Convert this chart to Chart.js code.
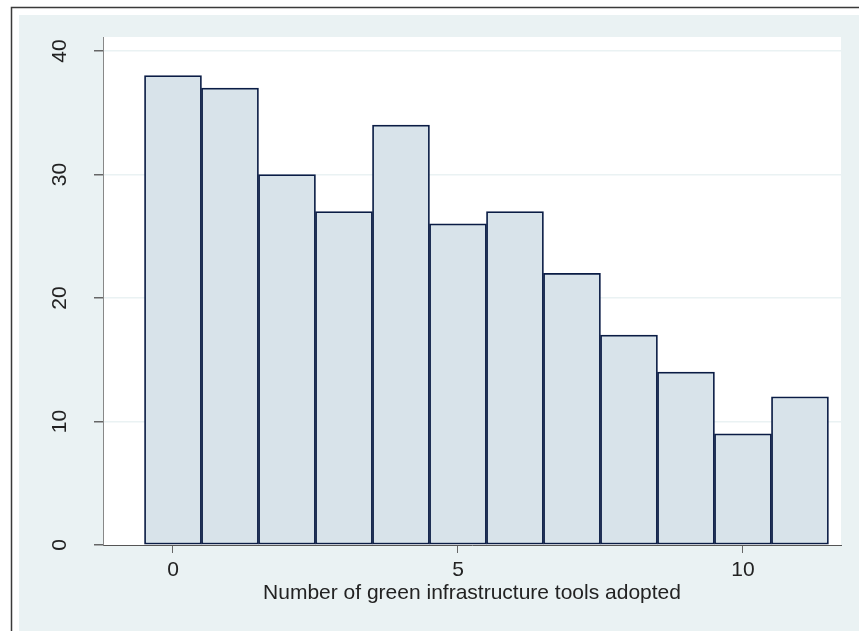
<!DOCTYPE html>
<html>
<head>
<meta charset="utf-8">
<script src="https://cdn.jsdelivr.net/npm/chart.js@4.4.1/dist/chart.umd.min.js"></script>
<style>
  html, body { margin: 0; padding: 0; background: #fff; }
  #wrap { width: 859px; height: 631px; }
</style>
</head>
<body>
<div id="wrap"><canvas id="histCanvas" width="859" height="631"></canvas></div>
<script>
// histogram: number of green infrastructure tools adopted
var toolCounts = [0, 1, 2, 3, 4, 5, 6, 7, 8, 9, 10, 11];
var frequency = [38, 37, 30, 27, 34, 26, 27, 22, 17, 14, 9, 12];
var xTickValues = [0, 5, 10];
var yTickValues = [0, 10, 20, 30, 40];
var xTitle = 'Number of green infrastructure tools adopted';

var outerBg = '#EAF2F3';
var fontFamily = '"Liberation Sans", Arial, Helvetica, sans-serif';

var points = [];
for (var i = 0; i < toolCounts.length; i++) {
	points.push({x: toolCounts[i], y: frequency[i]});
}

// stata style background and frame
var backdrop = {
	id: 'backdrop',
	beforeDraw: function(chart){
		var c = chart.ctx, a = chart.chartArea;
		c.save();
		c.fillStyle = '#fff';
		c.fillRect(0, 0, chart.width, chart.height);
		c.fillStyle = outerBg;
		c.fillRect(19, 15, chart.width - 19, chart.height - 15);
		c.fillStyle = '#fff';
		c.fillRect(a.left, a.top, a.right - a.left, a.bottom - a.top);
		c.strokeStyle = '#3a3a3a';
		c.lineWidth = 1.5;
		c.beginPath();
		c.moveTo(11.5, chart.height);
		c.lineTo(11.5, 7.5);
		c.lineTo(chart.width, 7.5);
		c.stroke();
		c.restore();
	}
};

// y tick labels are rotated like stata does
var rotatedYLabels = {
	id: 'rotatedYLabels',
	afterDraw: function(chart){
		var c = chart.ctx, ys = chart.scales.y;
		c.save();
		c.fillStyle = '#222';
		c.font = '21px ' + fontFamily;
		c.textAlign = 'center';
		c.textBaseline = 'middle';
		ys.ticks.forEach(function(t){
			var py = ys.getPixelForValue(t.value);
			c.save();
			c.translate(60, py);
			c.rotate(-Math.PI / 2);
			c.fillText(String(t.value), 0, 0);
			c.restore();
		});
		c.restore();
	}
};

var ctx = document.getElementById('histCanvas');
var histChart = new Chart(ctx, {
	type: 'bar',
	data: {
		datasets: [{
			label: 'Frequency',
			data: points,
			backgroundColor: '#D8E3EA',
			borderColor: '#0A1C45',
			borderWidth: 1.75,
			borderSkipped: false,
			barPercentage: 1,
			categoryPercentage: 1
		}]
	},
	options: {
		responsive: false,
		animation: false,
		layout: { padding: { top: 37, right: 18, left: 0, bottom: 0 } },
		plugins: {
			legend: { display: false },
			tooltip: { enabled: false }
		},
		scales: {
			x: {
				type: 'linear',
				min: -1.228,
				max: 11.72,
				offset: false,
				afterBuildTicks: function(s){
					s.ticks = xTickValues.map(function(v){ return {value: v}; });
				},
				afterFit: function(s){ s.height = 86; },
				grid: {
					offset: false,
					drawOnChartArea: false,
					drawTicks: true,
					tickLength: 8,
					tickColor: '#666',
					lineWidth: 1
				},
				border: { color: '#555', width: 1 },
				ticks: {
					font: { size: 21, family: fontFamily },
					color: '#222',
					padding: 5,
					maxRotation: 0
				},
				title: {
					display: true,
					text: xTitle,
					font: { size: 21, family: fontFamily },
					color: '#222',
					padding: { top: 25, bottom: 25 }
				}
			},
			y: {
				min: 0,
				max: 41.13,
				afterBuildTicks: function(s){
					s.ticks = yTickValues.map(function(v){ return {value: v}; });
				},
				afterFit: function(s){ s.width = 103; },
				grid: {
					color: function(c){ return c.tick && c.tick.value === 0 ? 'rgba(0,0,0,0)' : outerBg; },
					lineWidth: 1.5,
					tickLength: 9,
					tickColor: '#666'
				},
				border: { color: '#888', width: 1 },
				ticks: {
					color: 'rgba(0,0,0,0)',
					font: { size: 21, family: fontFamily }
				}
			}
		}
	},
	plugins: [backdrop, rotatedYLabels]
});
</script>
</body>
</html>
